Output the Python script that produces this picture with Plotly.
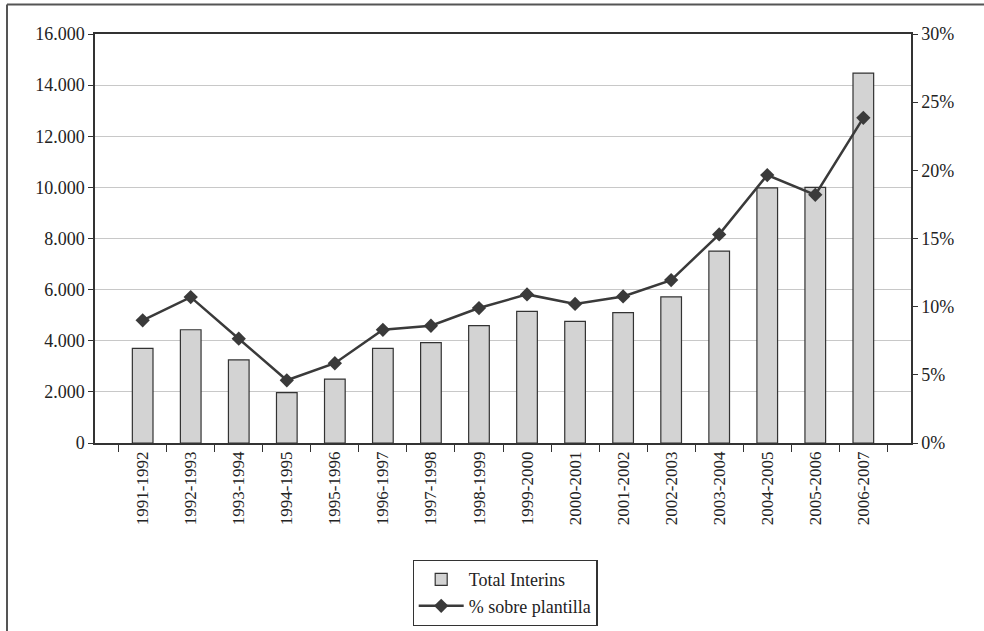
import plotly.graph_objects as go

cursos = ["1991-1992", "1992-1993", "1993-1994", "1994-1995", "1995-1996",
          "1996-1997", "1997-1998", "1998-1999", "1999-2000", "2000-2001",
          "2001-2002", "2002-2003", "2003-2004", "2004-2005", "2005-2006",
          "2006-2007"]
total_interins = [3700, 4430, 3250, 1970, 2500, 3700, 3930, 4590, 5150, 4760,
                  5100, 5720, 7510, 9980, 10000, 14470]
pct_plantilla = [9.0, 10.7, 7.65, 4.6, 5.85, 8.3, 8.6, 9.9, 10.9, 10.2,
                 10.75, 11.95, 15.3, 19.65, 18.2, 23.85]

FONT = "Liberation Serif, Times New Roman, serif"
INK = "#222222"

fig = go.Figure()
fig.add_trace(go.Bar(
    x=cursos, y=total_interins, name="Total Interins",
    marker=dict(color="#d3d3d3", line=dict(color="#333333", width=1.2)),
    yaxis="y",
))
fig.add_trace(go.Scatter(
    x=cursos, y=pct_plantilla, name="% sobre plantilla",
    mode="lines+markers",
    line=dict(color="#3a3a3a", width=2.5),
    marker=dict(symbol="diamond", size=11, color="#3a3a3a"),
    yaxis="y2",
))

L, R, T, B = 95, 73, 34, 188
W, H = 984, 631
pw, ph = W - L - R, H - T - B

# frame lines along the top and left edges of the figure
fx = (7 - L) / pw
fy = (H - B - 4.5) / ph
fig.add_shape(type="line", xref="paper", yref="paper", x0=fx, x1=(W + 5 - L) / pw,
              y0=fy, y1=fy, line=dict(color="#555555", width=2))
fig.add_shape(type="line", xref="paper", yref="paper", x0=fx, x1=fx,
              y0=fy, y1=-(B + 5) / ph, line=dict(color="#555555", width=2))

fig.update_layout(
    width=W, height=H,
    margin=dict(l=L, r=R, t=T, b=B, autoexpand=False),
    paper_bgcolor="white", plot_bgcolor="white",
    separators=",.",
    font=dict(family=FONT, size=18, color=INK),
    bargap=0.57,
    showlegend=True,
    legend=dict(
        xref="container", yref="container",
        x=505 / W, y=1 - 560 / H,
        xanchor="center", yanchor="top",
        bgcolor="white", bordercolor="#333333", borderwidth=1.2,
        font=dict(family=FONT, size=18, color=INK),
        tracegroupgap=0, itemwidth=45,
    ),
    xaxis=dict(
        type="category", tickangle=-90, automargin=False,
        showline=True, linecolor="#333333", linewidth=1.5, mirror=True,
        ticks="outside", tickson="boundaries", ticklen=7, tickcolor="#333333",
        showgrid=False,
        tickfont=dict(family=FONT, size=17, color=INK),
    ),
    yaxis=dict(
        range=[0, 16000], dtick=2000, tickformat=",d", automargin=False,
        showline=True, linecolor="#333333", linewidth=1.5,
        ticks="outside", ticklen=5, tickcolor="#333333",
        showgrid=True, gridcolor="#c8c8c8", gridwidth=1,
        zeroline=False,
        tickfont=dict(family=FONT, size=18, color=INK),
    ),
    yaxis2=dict(
        range=[0, 30], dtick=5, ticksuffix="%", overlaying="y", side="right",
        automargin=False,
        showline=True, linecolor="#333333", linewidth=1.5,
        ticks="outside", ticklen=5, tickcolor="#333333",
        showgrid=False, zeroline=False,
        tickfont=dict(family=FONT, size=18, color=INK),
    ),
)

fig.write_html("out.html")
